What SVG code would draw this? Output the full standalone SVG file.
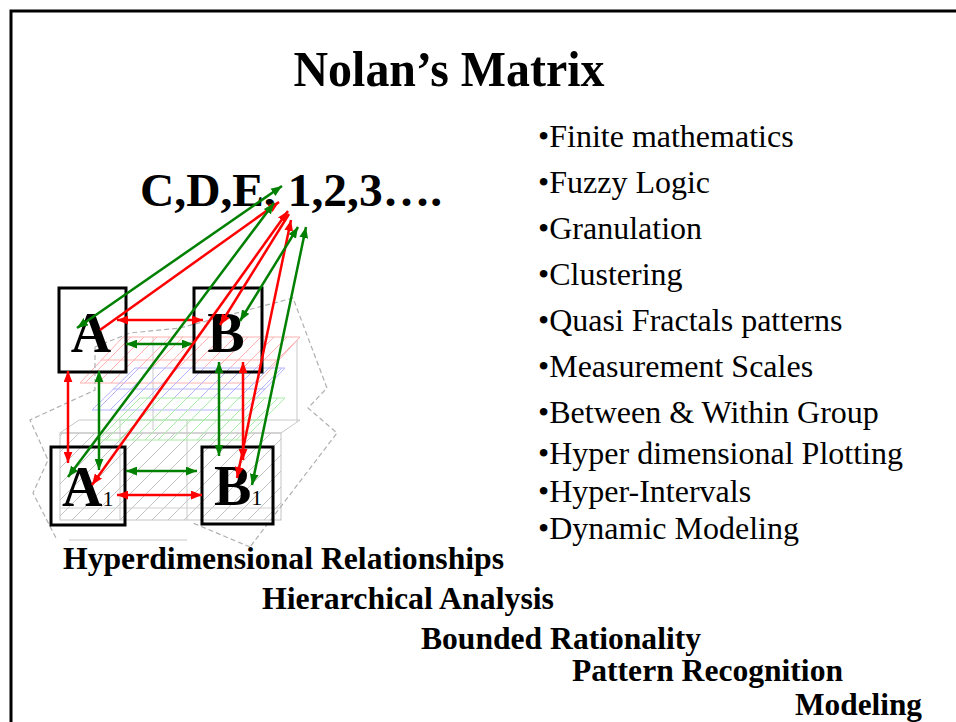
<svg xmlns="http://www.w3.org/2000/svg" width="956" height="722" viewBox="0 0 956 722">
<style>
.t{font-family:"Liberation Serif","Times New Roman",serif;fill:#000}
.b{font-weight:bold}
.li{font-size:32px}
.bt{font-size:32px;font-weight:bold}
.box{fill:none;stroke:#000;stroke-width:3}
.r{stroke:#ff0000;stroke-width:2.5;fill:none}
.g{stroke:#008000;stroke-width:2.5;fill:none}
.dash{fill:none;stroke:#b0b0b0;stroke-width:1.2;stroke-dasharray:5 3}
</style>
<defs>
<marker id="mr" viewBox="0 0 10 8" refX="10" refY="4" markerWidth="11" markerHeight="9" markerUnits="userSpaceOnUse" orient="auto-start-reverse"><path d="M0,0 L10,4 L0,8 Z" fill="#ff0000"/></marker>
<marker id="mg" viewBox="0 0 10 8" refX="10" refY="4" markerWidth="11" markerHeight="9" markerUnits="userSpaceOnUse" orient="auto-start-reverse"><path d="M0,0 L10,4 L0,8 Z" fill="#008000"/></marker>
<pattern id="pp" width="13" height="13" patternUnits="userSpaceOnUse"><path d="M0,13 L13,0" stroke="#ffb0b0" stroke-width="1"/></pattern>
<pattern id="pb" width="13" height="13" patternUnits="userSpaceOnUse"><path d="M0,13 L13,0" stroke="#b4b4ff" stroke-width="1"/></pattern>
<pattern id="pgr" width="13" height="13" patternUnits="userSpaceOnUse"><path d="M0,13 L13,0" stroke="#a8eca8" stroke-width="1"/></pattern>
<pattern id="pk" width="16" height="16" patternUnits="userSpaceOnUse"><path d="M0,16 L16,0" stroke="#c4c4c4" stroke-width="1"/></pattern>
</defs>
<rect width="956" height="722" fill="#fff"/>
<path d="M11,722 V11 H956" fill="none" stroke="#000" stroke-width="3"/>

<g id="title"><text class="t b" x="449" y="86" font-size="50" text-anchor="middle" textLength="311" lengthAdjust="spacingAndGlyphs">Nolan&#8217;s Matrix</text></g>

<g id="background">
<polygon points="60,433 281,433 300,420 79,420" fill="none" stroke="#c8c8c8"/>
<rect x="60" y="433" width="221" height="87" fill="url(#pk)" stroke="#c4c4c4"/>
<line x1="120" y1="420" x2="120" y2="520" stroke="#c8c8c8"/>
<line x1="187" y1="420" x2="187" y2="520" stroke="#c8c8c8"/>
<line x1="60" y1="508" x2="281" y2="508" stroke="#d0d0d0"/>
<line x1="153" y1="337" x2="153" y2="430" stroke="#c8c8c8"/>
<line x1="297" y1="340" x2="297" y2="422" stroke="#c8c8c8"/>
<polygon points="80,383 258,383 300,337 123,337" fill="url(#pp)" stroke="#ffb0b0"/>
<line x1="101" y1="360" x2="279" y2="360" stroke="#ffb0b0"/>
<polygon points="92,410 245,410 285,368 135,368" fill="url(#pb)" stroke="#b4b4ff"/>
<line x1="113" y1="389" x2="265" y2="389" stroke="#b4b4ff"/>
<polygon points="98,440 243,440 285,398 140,398" fill="url(#pgr)" stroke="#a8eca8"/>
<line x1="119" y1="420" x2="264" y2="420" stroke="#a8eca8"/>
<line x1="69" y1="540" x2="187" y2="540" stroke="#c8c8c8"/>
<path class="dash" d="M95,347 L130,333 L180,328 L293,298 L327,388 L308,408 L337,433 L250,547 M250,547 L193,523 M95,347 V390 L30,420 L48,460 L33,493 L57,540"/>
</g>

<g id="node-A"><rect class="box" x="59" y="288" width="67" height="84"/><text class="t b" x="91" y="352" font-size="56" text-anchor="middle">A</text></g>
<g id="node-B"><rect class="box" x="194" y="288" width="68" height="84"/><text class="t b" x="226" y="352" font-size="56" text-anchor="middle">B</text></g>
<g id="node-A1"><rect class="box" x="51" y="447" width="74" height="78"/><text class="t b" x="62" y="506" font-size="56">A<tspan font-size="22" font-weight="normal">1</tspan></text></g>
<g id="node-B1"><rect class="box" x="202" y="447" width="71" height="77"/><text class="t b" x="214" y="505" font-size="56">B<tspan font-size="22" font-weight="normal">1</tspan></text></g>
<g id="node-top"><text class="t b" x="140" y="206" font-size="46" textLength="302" lengthAdjust="spacingAndGlyphs">C,D,E, 1,2,3&#8230;.</text></g>

<g id="connectors">
<line class="r" x1="117" y1="320" x2="203" y2="320" marker-start="url(#mr)" marker-end="url(#mr)"/>
<line class="g" x1="126" y1="344" x2="193" y2="344" marker-start="url(#mg)" marker-end="url(#mg)"/>
<line class="r" x1="68" y1="371" x2="68" y2="463" marker-start="url(#mr)" marker-end="url(#mr)"/>
<line class="g" x1="99" y1="371" x2="99" y2="470" marker-start="url(#mg)" marker-end="url(#mg)"/>
<line class="g" x1="219" y1="362" x2="219" y2="456" marker-start="url(#mg)" marker-end="url(#mg)"/>
<line class="r" x1="243" y1="362" x2="243" y2="460" marker-start="url(#mr)" marker-end="url(#mr)"/>
<line class="g" x1="126" y1="471" x2="197" y2="471" marker-start="url(#mg)" marker-end="url(#mg)"/>
<line class="r" x1="117" y1="495" x2="202" y2="495" marker-start="url(#mr)" marker-end="url(#mr)"/>
<line class="g" x1="77" y1="328" x2="282" y2="186" marker-start="url(#mg)" marker-end="url(#mg)"/>
<line class="r" x1="100" y1="330" x2="279" y2="202" marker-end="url(#mr)"/>
<line class="g" x1="68" y1="477" x2="274" y2="203" marker-start="url(#mg)" marker-end="url(#mg)"/>
<line class="r" x1="92" y1="485" x2="288" y2="211" marker-start="url(#mr)" marker-end="url(#mr)"/>
<line class="r" x1="289" y1="214" x2="220" y2="325" marker-end="url(#mr)"/>
<line class="r" x1="237" y1="478" x2="291" y2="220" marker-start="url(#mr)" marker-end="url(#mr)"/>
<line class="g" x1="240" y1="321" x2="298" y2="227" marker-start="url(#mg)" marker-end="url(#mg)"/>
<line class="g" x1="252" y1="485" x2="306" y2="227" marker-start="url(#mg)" marker-end="url(#mg)"/>
</g>

<g id="list">
<text class="t li" x="538" y="147">•Finite mathematics</text>
<text class="t li" x="538" y="193">•Fuzzy Logic</text>
<text class="t li" x="538" y="239">•Granulation</text>
<text class="t li" x="538" y="285">•Clustering</text>
<text class="t li" x="538" y="331">•Quasi Fractals patterns</text>
<text class="t li" x="538" y="377">•Measurement Scales</text>
<text class="t li" x="538" y="423">•Between &amp; Within Group</text>
<text class="t li" x="538" y="464">•Hyper dimensional Plotting</text>
<text class="t li" x="538" y="502">•Hyper-Intervals</text>
<text class="t li" x="538" y="539">•Dynamic Modeling</text>
</g>

<g id="bottom">
<text class="t bt" x="63" y="569" textLength="441" lengthAdjust="spacingAndGlyphs">Hyperdimensional Relationships</text>
<text class="t bt" x="262" y="609" textLength="292" lengthAdjust="spacingAndGlyphs">Hierarchical Analysis</text>
<text class="t bt" x="421" y="649" textLength="280" lengthAdjust="spacingAndGlyphs">Bounded Rationality</text>
<text class="t bt" x="572" y="681" textLength="271" lengthAdjust="spacingAndGlyphs">Pattern Recognition</text>
<text class="t bt" x="795" y="715" textLength="127" lengthAdjust="spacingAndGlyphs">Modeling</text>
</g>
</svg>
